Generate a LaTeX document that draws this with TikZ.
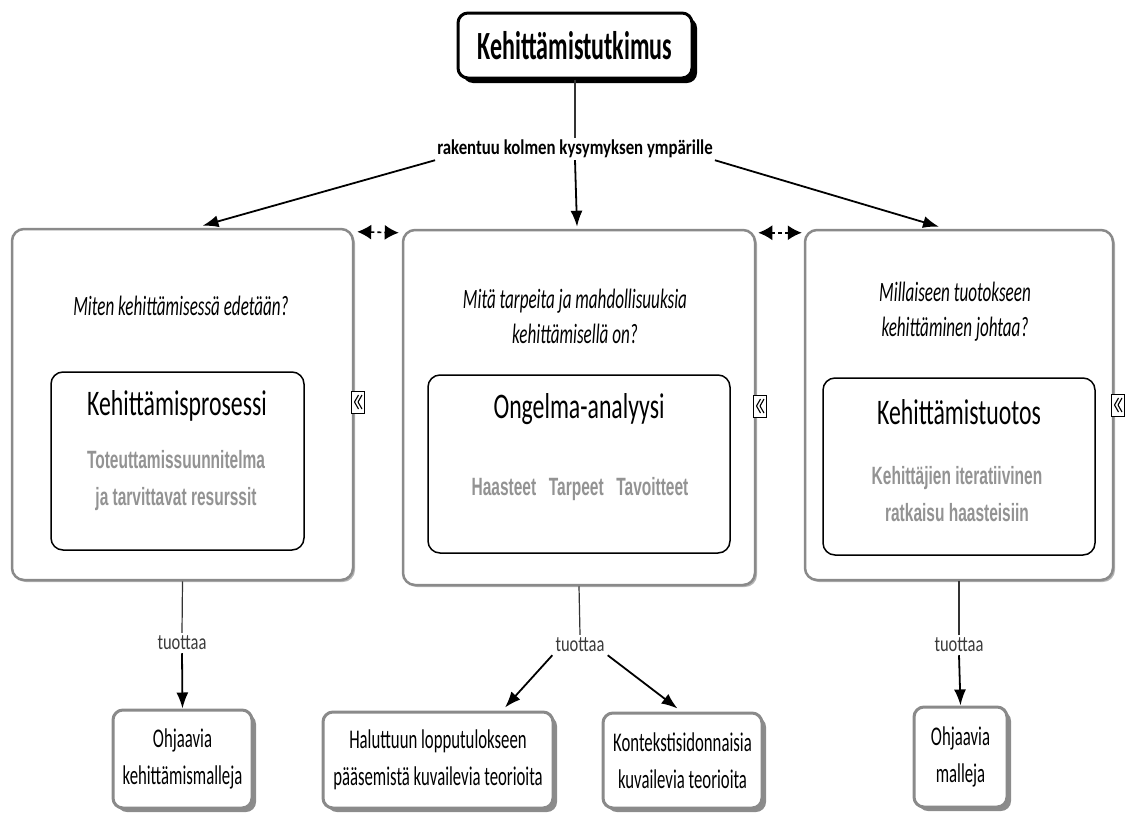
\documentclass[tikz,border=0pt]{standalone}
\usepackage{fontspec}
\setmainfont{Carlito}
% condensed cuts for the different text roles
\newfontfamily\headfont[FakeStretch=0.60]{Carlito}
\newfontfamily\linkfont[FakeStretch=0.80]{Carlito}
\newfontfamily\askfont[FakeStretch=0.61]{Carlito}
\newfontfamily\corefont[FakeStretch=0.66]{Carlito}
\newfontfamily\notefont[FakeStretch=0.62]{Liberation Sans}
\newfontfamily\verbfont[FakeStretch=0.75]{Carlito}
\newfontfamily\leaffont[FakeStretch=0.62]{Carlito}
\usetikzlibrary{arrows.meta,shadows,calc}

\definecolor{framegray}{HTML}{8A8A8A}
\definecolor{shadegray}{HTML}{B4B4B4}
\definecolor{leafshade}{HTML}{8C8C8C}
\definecolor{notegray}{HTML}{939393}
\definecolor{verbgray}{HTML}{3A3A3A}

\tikzset{
  rootbox/.style={draw=black, line width=3pt, rounded corners=10pt, fill=white,
    minimum width=234pt, minimum height=65pt, inner sep=0pt,
    drop shadow={shadow xshift=5pt, shadow yshift=-5pt, opacity=1, fill=black},
    font=\headfont\bfseries\fontsize{40}{44}\selectfont},
  linklabel/.style={inner sep=2pt, font=\linkfont\bfseries\fontsize{21}{24}\selectfont},
  askbox/.style={draw=framegray, line width=2.5pt, rounded corners=12pt, fill=white,
    inner sep=0pt,
    drop shadow={shadow xshift=2pt, shadow yshift=-2pt, opacity=1, fill=shadegray}},
  corebox/.style={draw=black, line width=1.5pt, rounded corners=12pt, inner sep=0pt},
  asktext/.style={align=center, font=\askfont\itshape\fontsize{28}{35}\selectfont},
  coretitle/.style={font=\corefont\fontsize{36}{40}\selectfont},
  notetext/.style={align=center, text=notegray,
    font=\notefont\bfseries\fontsize{25}{37}\selectfont},
  verb/.style={inner sep=3pt, text=verbgray, font=\verbfont\fontsize{22}{26}\selectfont},
  leafbox/.style={draw=framegray, line width=3pt, rounded corners=10pt, fill=white,
    inner sep=0pt, align=center,
    drop shadow={shadow xshift=4pt, shadow yshift=-4pt, opacity=1, fill=leafshade},
    font=\leaffont\fontsize{27}{37}\selectfont},
  foldicon/.style={draw=black, fill=white, line width=1pt, minimum width=13pt,
    minimum height=22pt, inner sep=0pt,
    path picture={
      \draw[line width=1.1pt, line join=round]
        ([shift={(0.5,-7)}]path picture bounding box.center) --
        ([shift={(-3.5,0)}]path picture bounding box.center) --
        ([shift={(0.5,7)}]path picture bounding box.center);
      \draw[line width=1.1pt, line join=round]
        ([shift={(4,-7)}]path picture bounding box.center) --
        ([shift={(0,0)}]path picture bounding box.center) --
        ([shift={(4,7)}]path picture bounding box.center);
    }},
  plainline/.style={line width=1.2pt, draw=black!80},
  link/.style={line width=1.8pt, -{Latex[length=16pt,width=12pt]}},
  pairlink/.style={line width=1.6pt, dash pattern=on 4pt off 3pt,
    {Latex[length=14pt,width=15pt]}-{Latex[length=14pt,width=15pt]}}
}

\begin{document}
\begin{tikzpicture}[x=1pt, y=-1pt]
  \useasboundingbox (0,0) rectangle (1131,814);

  % root and the linking phrase
  \node[rootbox] (root) at (575,45.5) {Kehittämistutkimus};
  \node[linklabel] (ask) at (575,149) {rakentuu kolmen kysymyksen ympärille};

  % the three question boxes
  \node[askbox, minimum width=341pt, minimum height=351pt] (b1) at (182.5,404.5) {};
  \node[askbox, minimum width=352pt, minimum height=355pt] (b2) at (579,407.5) {};
  \node[askbox, minimum width=308pt, minimum height=350pt] (b3) at (959,405) {};

  % inner boxes
  \node[corebox, minimum width=253pt, minimum height=178pt] (c1) at (177.5,461) {};
  \node[corebox, minimum width=302pt, minimum height=178pt] (c2) at (579,464) {};
  \node[corebox, minimum width=272pt, minimum height=177pt] (c3) at (959,466.5) {};

  % questions
  \node[asktext] (q1) at (181,306) {Miten kehittämisessä edetään?};
  \node[asktext] (q2) at (575,316) {Mitä tarpeita ja mahdollisuuksia\\kehittämisellä on?};
  \node[asktext] (q3) at (955,312) {Millaiseen tuotokseen\\kehittäminen johtaa?};

  % inner titles
  \node[coretitle] (h1) at (177,406) {Kehittämisprosessi};
  \node[coretitle] (h2) at (579,409) {Ongelma-analyysi};
  \node[coretitle] (h3) at (959,412) {Kehittämistuotos};

  % grey notes
  \node[notetext] (n1) at (176,481) {Toteuttamissuunnitelma\\ja tarvittavat resurssit};
  \node[notetext] (n2) at (580,489) {Haasteet\, \,Tarpeet\, \,Tavoitteet};
  \node[notetext] (n3) at (957,494) {Kehittäjien iteratiivinen\\ratkaisu haasteisiin};

  % fold icons on the right edges
  \node[foldicon] (k1) at (358,402) {};
  \node[foldicon] (k2) at (760,406) {};
  \node[foldicon] (k3) at (1118,405) {};

  % "tuottaa" labels
  \node[verb] (v1) at (182,643) {tuottaa};
  \node[verb] (v2) at (580,645) {tuottaa};
  \node[verb] (v3) at (959,645) {tuottaa};

  % outcome boxes
  \node[leafbox, minimum width=139pt, minimum height=98pt] (l1) at (182.5,759) {Ohjaavia\\kehittämismalleja};
  \node[leafbox, minimum width=230pt, minimum height=96pt] (l2) at (438,760) {Haluttuun lopputulokseen\\pääsemistä kuvailevia teorioita};
  \node[leafbox, minimum width=159pt, minimum height=95pt] (l3) at (682.5,760.5) {Kontekstisidonnaisia\\kuvailevia teorioita};
  \node[leafbox, minimum width=93pt, minimum height=100pt] (l4) at (960.5,757) {Ohjaavia\\malleja};

  % connectors from the root
  \draw[plainline] (root.south) -- (ask.north);
  \draw[link] (ask.south west) -- ($(b1.north)+(20,-2)$);
  \draw[link] (ask.south) -- ($(b2.north)+(-2,-2)$);
  \draw[link] (ask.south east) -- ($(b3.north)+(-20,-2)$);

  % dashed links between the question boxes
  \draw[pairlink] ($(b1.north east)+(3,4)$) -- ($(b2.north west)+(-3,4)$);
  \draw[pairlink] ($(b2.north east)+(2,4)$) -- ($(b3.north west)+(-2,4)$);

  % outcomes
  \draw[plainline] (b1.south) -- (v1.north);
  \draw[link] (v1.south) -- (l1.north);
  \draw[plainline] (b2.south) -- (v2.north);
  \draw[link] (v2.south west) -- ($(l2.north)+(67,-3)$);
  \draw[link] (v2.south east) -- ($(l3.north)+(-5,-3)$);
  \draw[plainline] (b3.south) -- (v3.north);
  \draw[link] (v3.south) -- (l4.north);
\end{tikzpicture}
\end{document}
